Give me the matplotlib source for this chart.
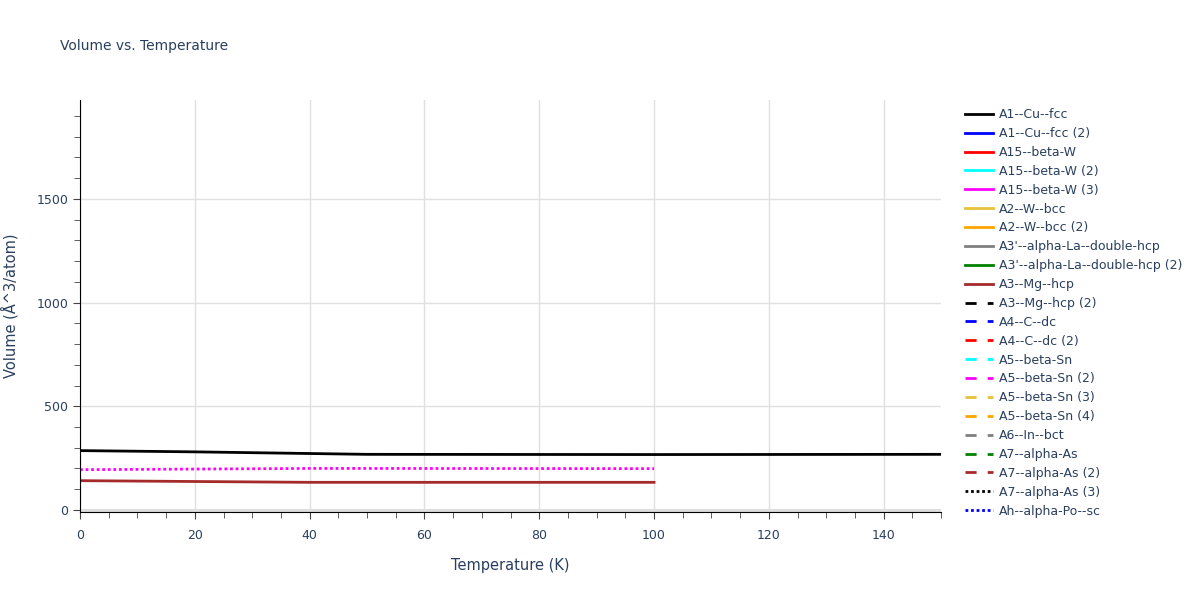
import numpy as np
import matplotlib.pyplot as plt
from matplotlib.lines import Line2D
from matplotlib.ticker import MultipleLocator

# series names in the legend (the visible part of it)
names = ['A1--Cu--fcc', 'A1--Cu--fcc (2)', 'A15--beta-W', 'A15--beta-W (2)', 'A15--beta-W (3)',
         'A2--W--bcc', 'A2--W--bcc (2)', "A3'--alpha-La--double-hcp", "A3'--alpha-La--double-hcp (2)",
         'A3--Mg--hcp', 'A3--Mg--hcp (2)', 'A4--C--dc', 'A4--C--dc (2)', 'A5--beta-Sn',
         'A5--beta-Sn (2)', 'A5--beta-Sn (3)', 'A5--beta-Sn (4)', 'A6--In--bct',
         'A7--alpha-As', 'A7--alpha-As (2)', 'A7--alpha-As (3)', 'Ah--alpha-Po--sc']
colors = ['black', 'blue', 'red', 'cyan', 'magenta', '#e6c23a', 'orange', 'gray', 'green', 'brown']

# visible data
t_cu = [0, 20, 40, 50, 100, 150]
v_cu = [286, 280, 272, 268, 267, 268]
t_mg = [0, 20, 40, 50, 100]
v_mg = [141, 137, 133, 133, 133]
t_dot = [0, 20, 40, 50, 100]
v_dot = [194, 197, 200, 200, 199]

dash = (0, (4, 4))
dot = (0, (1, 1))

def style(i):
    ls = '-' if i < 10 else (dash if i < 20 else dot)
    return colors[i % 10], ls

fig = plt.figure(figsize=(12, 6), dpi=100)
ax = fig.add_axes([0.0667, 0.1467, 0.7175, 0.6866])

txt = '#2a3f5f'
ax.plot(t_cu, v_cu, color='black', lw=2)
ax.plot(t_mg, v_mg, color='brown', lw=2)
ax.plot(t_dot, v_dot, color='magenta', lw=2, linestyle=dot)

ax.set_xlim(0, 150)
ax.set_ylim(-10, 1977)
ax.xaxis.set_major_locator(MultipleLocator(20))
ax.xaxis.set_minor_locator(MultipleLocator(5))
ax.yaxis.set_major_locator(MultipleLocator(500))
ax.yaxis.set_minor_locator(MultipleLocator(100))
ax.grid(True, which='major', color='#e0e0e0', lw=1)
ax.axhline(0, color='#d8d8d8', lw=2, zorder=0.5)
ax.set_axisbelow(True)
for s in ['top', 'right']:
    ax.spines[s].set_visible(False)
for s in ['left', 'bottom']:
    ax.spines[s].set_color('black')
ax.tick_params(which='both', direction='out', colors='#444444', labelcolor=txt, labelsize=9)
ax.tick_params(which='major', length=5)
ax.tick_params(which='minor', length=4)
ax.tick_params(axis='x', which='major', pad=7)

ax.set_xlabel('Temperature (K)', color=txt, fontsize=10.5, labelpad=12)
ax.set_ylabel('Volume (Å^3/atom)', color=txt, fontsize=10.5, labelpad=13)
fig.text(0.05, 0.917, 'Volume vs. Temperature', color=txt, fontsize=10)

handles = []
for i, n in enumerate(names):
    c, ls = style(i)
    handles.append(Line2D([], [], color=c, linestyle=ls, lw=2, label=n))
leg = fig.legend(handles=handles, loc='upper left', bbox_to_anchor=(0.8, 0.828),
                 frameon=False, fontsize=9, labelspacing=0.47, handlelength=2.2,
                 handletextpad=0.55, borderaxespad=0)
for t in leg.get_texts():
    t.set_color(txt)

fig.savefig('out.png')
